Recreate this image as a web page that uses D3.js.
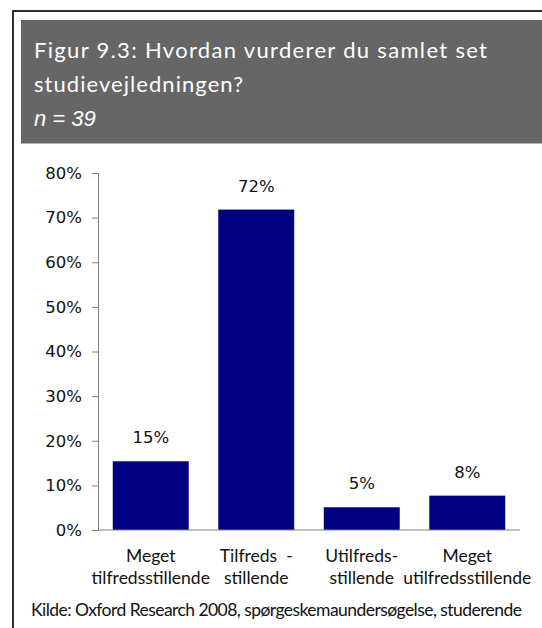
<!DOCTYPE html>
<html>
<head>
<meta charset="utf-8">
<script src="https://cdn.jsdelivr.net/npm/d3@7"></script>
<style>
  body { margin: 0; background: #fff; }
  svg { display: block; }
  text { white-space: pre; }
</style>
</head>
<body>
<svg id="chart" width="542" height="628"></svg>
<script>
// survey answers, n = 39
const categories = ['Meget tilfredsstillende', 'Tilfredsstillende', 'Utilfredsstillende', 'Meget utilfredsstillende'];
const categoryLines = [
  ['Meget', 'tilfredsstillende'],
  ['Tilfreds  -', 'stillende'],
  ['Utilfreds-', 'stillende'],
  ['Meget', 'utilfredsstillende']
];
const shares = [15.4, 71.8, 5.1, 7.7];
const shareLabels = ['15%', '72%', '5%', '8%'];
const yTicks = [0, 10, 20, 30, 40, 50, 60, 70, 80];
const titleLines = ['Figur 9.3: Hvordan vurderer du samlet set', 'studievejledningen?'];
const subtitle = 'n = 39';
const source = 'Kilde: Oxford Research 2008, spørgeskemaundersøgelse, studerende';

const svg = d3.select('#chart');
const condensed = 'Lato, "Open Sans", sans-serif';
const plain = '"DejaVu Sans", Verdana, sans-serif';

// frame round the figure, runs off the right edge like the scan
svg.append('rect')
  .attr('x', 13).attr('y', 11)
  .attr('width', 600).attr('height', 700)
  .style('fill', 'none')
  .style('stroke', '#000')
  .style('stroke-width', 1.6);

// title block
svg.append('rect')
  .attr('x', 21).attr('y', 20)
  .attr('width', 540).attr('height', 123.5)
  .style('fill', '#666666');

// widths of the two title lines in the scan
const titleWidths = [453, 209];

svg.append('g').selectAll('text')
  .data(titleLines)
  .enter().append('text')
  .attr('x', 34)
  .attr('y', (d, i) => 57.5 + i * 34)
  .attr('textLength', (d, i) => titleWidths[i])
  .attr('lengthAdjust', 'spacing')
  .style('font-family', condensed)
  .style('font-size', '22px')
  .style('fill', '#fff')
  .text(d => d);

svg.append('text')
  .attr('x', 34).attr('y', 126)
  .style('font-family', '"Liberation Sans", Arial, sans-serif')
  .style('font-style', 'italic')
  .style('font-size', '22px')
  .style('fill', '#fff')
  .text(subtitle);

// plot
const margin = { left: 98, right: 22, top: 173, bottom: 98 };
const width = 542 - margin.left - margin.right,
  height = 628 - margin.top - margin.bottom;

const g = svg.append('g').attr('transform', `translate(${margin.left},${margin.top})`);

const x = d3.scaleBand()
  .domain(categories)
  .range([0, width])
  .paddingInner(0.28)
  .paddingOuter(0.14);

const y = d3.scaleLinear()
  .domain([0, 80])
  .range([height, 0]);

const yAxis = g.append('g')
  .call(d3.axisLeft(y).tickValues(yTicks).tickSize(6).tickPadding(10).tickFormat(d => d + '%'));
yAxis.select('.domain').attr('stroke', '#808080');
yAxis.selectAll('.tick line').attr('stroke', '#808080');
yAxis.selectAll('.tick text')
  .style('font-family', plain)
  .style('font-size', '16.5px')
  .style('fill', '#111');

g.selectAll('rect.bar')
  .data(shares)
  .enter().append('rect')
  .classed('bar', true)
  .attr('x', (d, i) => x(categories[i]))
  .attr('y', d => y(d))
  .attr('width', x.bandwidth())
  .attr('height', d => height - y(d))
  .style('fill', '#000080');

g.selectAll('text.value')
  .data(shares)
  .enter().append('text')
  .classed('value', true)
  .attr('x', (d, i) => x(categories[i]) + x.bandwidth() / 2)
  .attr('y', d => y(d) - 18)
  .attr('text-anchor', 'middle')
  .style('font-family', plain)
  .style('font-size', '16.5px')
  .style('fill', '#111')
  .text((d, i) => shareLabels[i]);

g.append('line')
  .attr('x1', 0).attr('x2', width)
  .attr('y1', height).attr('y2', height)
  .style('stroke', '#808080');

const catText = g.selectAll('text.cat')
  .data(categoryLines)
  .enter().append('text')
  .classed('cat', true)
  .attr('x', (d, i) => x(categories[i]) + x.bandwidth() / 2)
  .attr('y', height + 31.5)
  .attr('text-anchor', 'middle')
  .style('font-family', condensed)
  .style('font-size', '17.5px')
  .style('fill', '#111');

catText.selectAll('tspan')
  .data(d => d)
  .enter().append('tspan')
  .attr('x', function () { return d3.select(this.parentNode).attr('x'); })
  .attr('dy', (d, i) => i === 0 ? 0 : 22.5)
  .text(d => d);

svg.append('text')
  .attr('x', 31).attr('y', 616)
  .attr('textLength', 491)
  .attr('lengthAdjust', 'spacing')
  .style('font-family', condensed)
  .style('font-size', '17.5px')
  .style('fill', '#111')
  .text(source);
</script>
</body>
</html>
